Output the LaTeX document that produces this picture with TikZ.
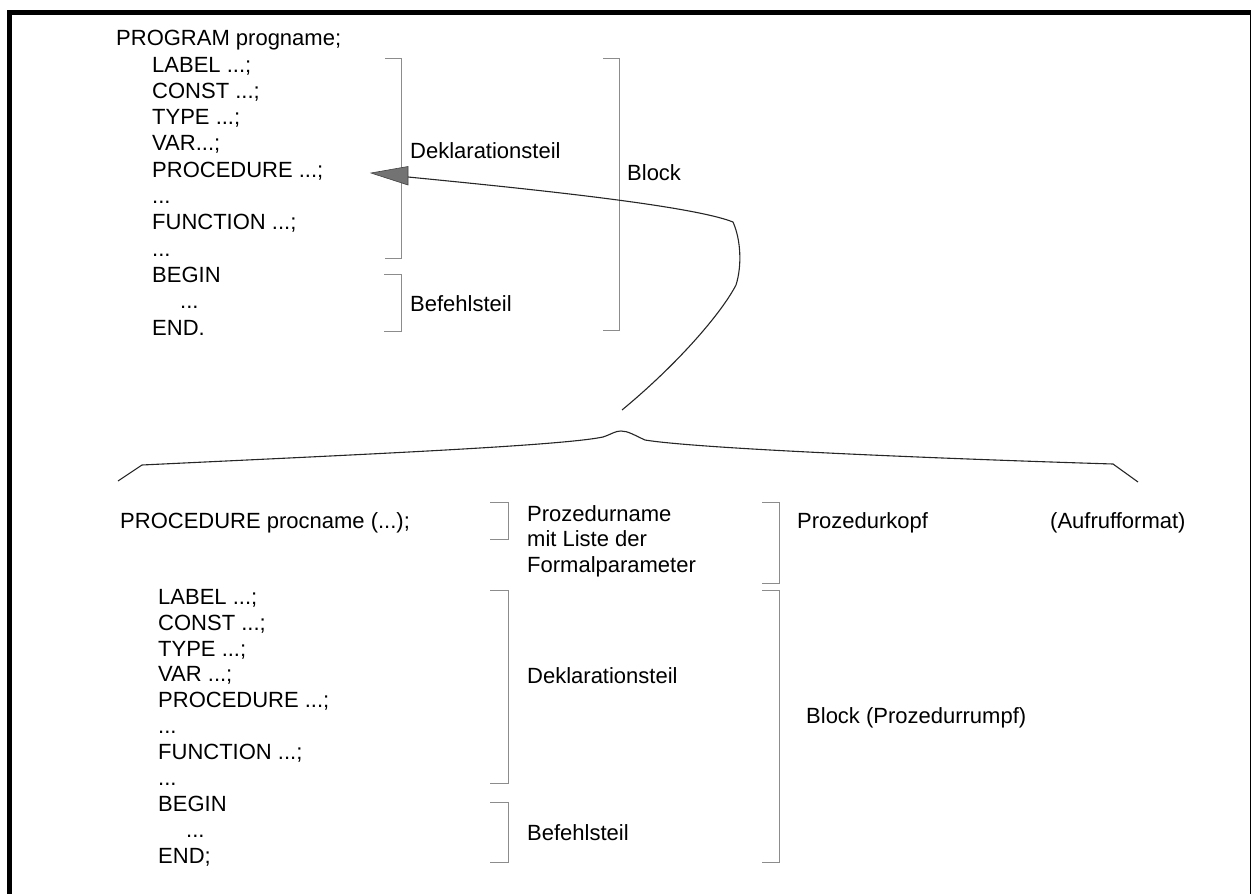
\documentclass[tikz,border=0pt]{standalone}
\usepackage{fontspec}
\setmainfont{Liberation Sans}
\begin{document}
\begin{tikzpicture}[x=1pt,y=-1pt,
  txt/.style={anchor=base west,inner sep=0pt,font=\fontsize{22}{26}\selectfont},
  brk/.style={draw=black!45,line width=1pt},
  crv/.style={draw=black!85,line width=1.1pt}]
\useasboundingbox (0,0) rectangle (1251,894);
\clip (0,0) rectangle (1251,894);
\draw[line width=5pt] (9.5,12) rectangle (1252,905);

% upper program text
\node[txt] (p0) at (116,45.7) {PROGRAM progname;};
\node[txt] (p1) at (152,72) {LABEL ...;};
\node[txt] (p2) at (152,98.3) {CONST ...;};
\node[txt] (p3) at (152,124.6) {TYPE ...;};
\node[txt] (p4) at (152,150.9) {VAR...;};
\node[txt] (p5) at (152,177.2) {PROCEDURE ...;};
\node[txt] (p6) at (152,203.5) {...};
\node[txt] (p7) at (152,229.8) {FUNCTION ...;};
\node[txt] (p8) at (152,256.1) {...};
\node[txt] (p9) at (152,282.4) {BEGIN};
\node[txt] (p10) at (180,308.7) {...};
\node[txt] (p11) at (152,335) {END.};

% upper brackets
\draw[brk] (385,58) -- (401,58) -- (401,258) -- (385,258);
\draw[brk] (384,274) -- (401,274) -- (401,331) -- (384,331);
\draw[brk] (603,58) -- (619,58) -- (619,330) -- (603,330);
\node[txt] (ud) at (410,158) {Deklarationsteil};
\node[txt] (ub) at (410,311) {Befehlsteil};
\node[txt] (ublk) at (627,180) {Block};

% curly brace
\coordinate (bl) at (118,481);
\coordinate (bk1) at (142,465);
\coordinate (peak) at (621,431);
\coordinate (bk2) at (1113,464);
\coordinate (br) at (1138,482);
\draw[crv] (bl) -- (bk1) .. controls (350,455) and (560,446) .. (603,437)
  .. controls (612,434) and (615,431) .. (peak)
  .. controls (628,431) and (634,435) .. (645,440)
  .. controls (700,449) and (950,459) .. (bk2) -- (br);

% arrow curve
\coordinate (cstart) at (622,410);
\coordinate (abase) at (408,177);
\coordinate (atip) at (371,173);
\draw[crv] (cstart) .. controls (680,362) and (722,312) .. (736,285)
  .. controls (742,266) and (741,240) .. (733,222)
  .. controls (690,205) and (520,188) .. (abase);
\filldraw[fill=black!55,draw=black!75,line width=0.6pt] (atip) -- (408,166.5) -- (408,185) -- cycle;

% lower header
\node[txt] (hp) at (120,528.7) {PROCEDURE procname (...);};
\draw[brk] (490,502) -- (508,502) -- (508,539) -- (490,539);
\node[txt] (pn1) at (527,521) {Prozedurname};
\node[txt] (pn2) at (527,546.5) {mit Liste der};
\node[txt] (pn3) at (527,572) {Formalparameter};
\draw[brk] (762,502) -- (779,502) -- (779,583) -- (762,583);
\node[txt] (pk) at (797,528.7) {Prozedurkopf};
\node[txt] (af) at (1050,528.7) {(Aufrufformat)};

% lower program text
\node[txt] (q0) at (158,604.2) {LABEL ...;};
\node[txt] (q1) at (158,630.1) {CONST ...;};
\node[txt] (q2) at (158,656) {TYPE ...;};
\node[txt] (q3) at (158,681.9) {VAR ...;};
\node[txt] (q4) at (158,707.8) {PROCEDURE ...;};
\node[txt] (q5) at (158,733.7) {...};
\node[txt] (q6) at (158,759.6) {FUNCTION ...;};
\node[txt] (q7) at (158,785.5) {...};
\node[txt] (q8) at (158,811.4) {BEGIN};
\node[txt] (q9) at (186,837.3) {...};
\node[txt] (q10) at (158,863.2) {END;};

% lower brackets
\draw[brk] (490,590) -- (508,590) -- (508,783) -- (490,783);
\draw[brk] (490,802) -- (508,802) -- (508,862) -- (490,862);
\draw[brk] (762,590) -- (779,590) -- (779,862) -- (762,862);
\node[txt] (ld) at (527,683) {Deklarationsteil};
\node[txt] (lb) at (527,840) {Befehlsteil};
\node[txt] (lblk) at (806,723) {Block (Prozedurrumpf)};
\end{tikzpicture}
\end{document}
